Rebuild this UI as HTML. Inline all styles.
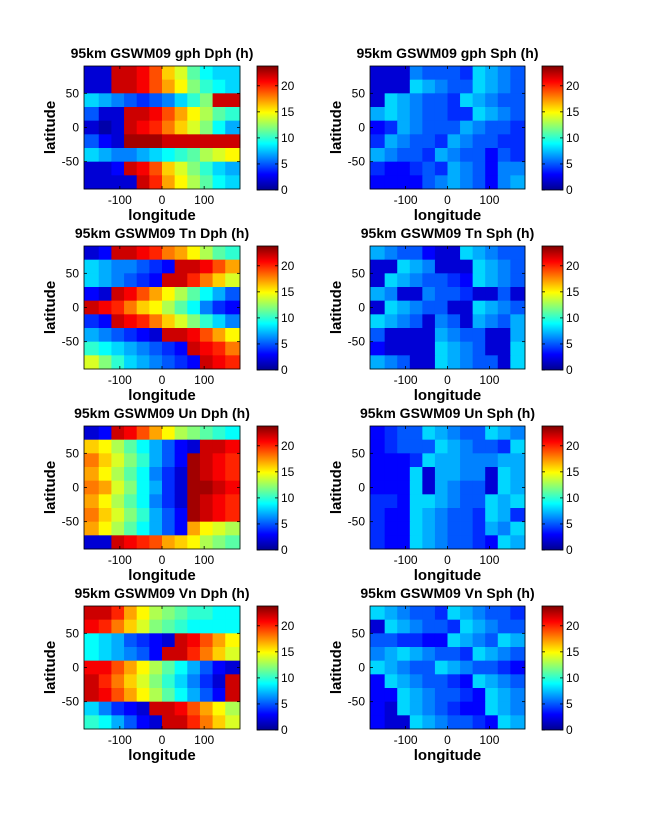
<!DOCTYPE html>
<html><head><meta charset="utf-8"><style>
html,body{margin:0;padding:0;background:#fff;}
svg{display:block;font-family:"Liberation Sans",Arial,sans-serif;}
</style></head><body>
<svg id="fig" width="647" height="822" viewBox="0 0 647 822">
<defs>
<linearGradient id="jet" x1="0" y1="1" x2="0" y2="0">
<stop offset="0" stop-color="#00008f"/><stop offset="0.125" stop-color="#0000ff"/>
<stop offset="0.375" stop-color="#00ffff"/><stop offset="0.625" stop-color="#ffff00"/>
<stop offset="0.875" stop-color="#ff0000"/><stop offset="1" stop-color="#800000"/>
</linearGradient>
</defs>
</svg>
<script>
const lonCenters=[-165,-135,-105,-75,-45,-15,15,45,75,105,135,165];
const latCenters=[80,60,40,20,0,-20,-40,-60,-80];
const lonTicks=[-100,0,100];
const latTicks=[50,0,-50];
const cbarTicks=[0,5,10,15,20];
const gphDph=[[2,2,22,22,21,19,16,14,11,9,8,8],[2,2,22,22,21,19,17,15,12,10,9,8],[8,7,6,5,4,5,6,8,10,12,22,22],[5,2,2,22,22,21,19,17,15,13,11,10],[2,1,2,22,21,20,18,16,14,12,9,7],[5,3,2,23,23,23,22,22,22,22,22,22],[8,7,6,6,7,8,9,10,11,13,14,15],[2,2,3,22,21,19,16,14,12,10,8,7],[2,2,2,2,22,20,17,15,13,11,9,8]];
const gphSph=[[2,2,2,6,5,5,5,4,8,7,6,5],[2,2,2,8,7,6,5,5,8,7,6,5],[2,8,7,6,5,5,4,8,7,6,5,5],[7,8,7,6,5,5,4,4,8,7,6,5],[3,4,7,6,5,5,5,7,6,5,5,4],[4,7,6,5,5,4,7,6,5,5,4,4],[7,6,5,5,4,7,6,5,5,3,5,4],[4,3,3,4,5,4,7,6,5,3,6,6],[3,3,3,3,5,6,7,6,5,3,6,7]];
const tnDph=[[2,3,22,22,21,20,18,17,15,13,11,10],[8,7,6,6,5,4,3,22,22,21,19,17],[8,7,6,5,4,3,22,22,20,18,16,14],[3,2,22,21,19,17,15,13,11,9,7,5],[22,21,20,18,16,15,13,11,9,6,4,3],[4,3,22,21,20,18,16,14,12,10,8,6],[7,6,5,4,3,2,22,22,21,19,17,15],[10,9,8,7,6,5,4,3,22,21,20,18],[14,12,10,8,7,6,5,4,3,22,21,20]];
const tnSph=[[7,6,5,5,3,2,2,8,7,6,5,5],[2,2,8,7,6,2,2,2,8,7,6,5],[2,8,7,6,5,5,4,3,8,7,6,5],[7,6,2,2,6,5,5,4,2,2,5,2],[2,8,7,6,5,5,2,2,8,7,6,5],[8,7,6,5,2,6,5,2,7,6,5,7],[5,2,2,2,2,7,6,5,5,2,2,7],[3,2,2,2,2,8,7,6,5,2,2,8],[7,6,5,2,2,8,7,6,5,5,2,8]];
const unDph=[[2,3,22,21,19,17,15,13,12,11,10,9],[16,15,13,11,9,7,5,3,2,22,22,21],[18,16,14,12,10,7,5,3,23,22,21,20],[17,15,13,11,9,6,4,2,23,22,21,20],[18,17,14,12,9,7,4,2,23,23,22,21],[17,15,13,11,9,6,4,2,23,22,21,20],[18,16,14,12,10,7,5,3,23,22,21,20],[17,15,13,11,9,7,5,3,17,15,14,13],[2,2,22,21,20,19,17,16,15,13,12,11]];
const unSph=[[3,4,5,5,8,7,6,5,5,8,7,6],[3,4,5,5,5,8,7,6,5,5,4,8],[3,3,3,4,8,7,7,6,6,6,7,7],[3,3,3,8,2,7,7,6,6,2,8,7],[3,3,3,8,2,7,6,5,5,2,8,7],[4,4,3,8,8,7,6,5,5,8,7,8],[4,3,3,8,7,6,5,5,4,8,7,4],[4,3,3,8,7,6,5,5,4,7,6,8],[4,3,3,8,7,6,5,5,4,3,8,7]];
const vnDph=[[22,22,20,17,15,13,12,11,10,10,9,9],[21,20,18,16,14,12,11,10,9,9,9,9],[9,8,7,5,4,3,2,22,21,19,17,15],[9,8,7,6,5,3,22,22,20,18,16,14],[21,21,19,17,15,13,11,9,7,5,3,2],[22,20,18,16,14,12,10,8,6,4,2,22],[22,21,19,17,15,13,11,9,7,5,3,22],[8,6,4,3,2,22,22,21,19,17,15,13],[10,9,7,5,3,2,22,22,20,18,16,14]];
const vnSph=[[8,7,6,5,5,4,8,7,6,5,5,4],[2,8,7,6,5,5,4,8,7,6,5,5],[5,5,4,4,3,3,8,7,6,5,8,7],[6,7,8,7,6,5,5,4,8,7,6,5],[8,7,6,5,5,8,7,6,5,5,4,3],[3,8,7,6,5,5,4,3,8,7,6,5],[3,3,8,7,6,5,5,4,3,8,7,6],[3,2,8,7,6,5,4,3,3,8,7,6],[3,2,2,8,7,6,5,5,4,3,8,7]];

const NS='http://www.w3.org/2000/svg';
const svg=document.getElementById('fig');
const VMAX=23.8, LONMIN=-185, LONMAX=185;
function mk(tag,attrs,parent){const e=document.createElementNS(NS,tag);for(const k in attrs)e.setAttribute(k,attrs[k]);(parent||svg).appendChild(e);return e;}
function jet(v){let t=Math.max(0,Math.min(1,v/VMAX));const c=x=>Math.round(255*Math.max(0,Math.min(1,1.5-Math.abs(4*t-x))));return `rgb(${c(3)},${c(2)},${c(1)})`;}

const panels=[
 {t:'95km GSWM09 gph Dph (h)',d:gphDph,col:0,row:0,n:'gph-dph'},
 {t:'95km GSWM09 gph Sph (h)',d:gphSph,col:1,row:0,n:'gph-sph'},
 {t:'95km GSWM09 Tn Dph (h)',d:tnDph,col:0,row:1,n:'tn-dph'},
 {t:'95km GSWM09 Tn Sph (h)',d:tnSph,col:1,row:1,n:'tn-sph'},
 {t:'95km GSWM09 Un Dph (h)',d:unDph,col:0,row:2,n:'un-dph'},
 {t:'95km GSWM09 Un Sph (h)',d:unSph,col:1,row:2,n:'un-sph'},
 {t:'95km GSWM09 Vn Dph (h)',d:vnDph,col:0,row:3,n:'vn-dph'},
 {t:'95km GSWM09 Vn Sph (h)',d:vnSph,col:1,row:3,n:'vn-sph'}];

panels.forEach(p=>{
 const x0=p.col?370:84, w=p.col?155:156, y0=66+180*p.row, h=123;
 const cbx=p.col?542:257;
 const g=mk('g',{});
 
 
 const xs=lon=>x0+(lon-LONMIN)/(LONMAX-LONMIN)*w;
 const ys=lat=>y0+(90-lat)/180*h;
 const xb=[x0];for(let i=1;i<lonCenters.length;i++)xb.push(xs((lonCenters[i-1]+lonCenters[i])/2));xb.push(x0+w);
 const yb=[y0];for(let j=1;j<latCenters.length;j++)yb.push(ys((latCenters[j-1]+latCenters[j])/2));yb.push(y0+h);
 p.d.forEach((rowv,j)=>rowv.forEach((v,i)=>{
  const r=mk('rect',{x:xb[i].toFixed(2),y:yb[j].toFixed(2),width:(xb[i+1]-xb[i]+0.4).toFixed(2),height:(yb[j+1]-yb[j]+0.4).toFixed(2),fill:jet(v)},g);
  
  
 }));
 const bx=mk('rect',{x:x0,y:y0,width:w,height:h,fill:'none',stroke:'#000','stroke-width':0.8},g);
 
 
 const tt=mk('text',{x:x0+w/2,y:y0-8,'text-anchor':'middle','font-size':'14','font-weight':'bold'},g);
 tt.textContent=p.t;
 
 
 lonTicks.forEach(v=>{
  const X=xs(v);
  mk('line',{x1:X,x2:X,y1:y0+h,y2:y0+h-3,stroke:'#000','stroke-width':0.8},g);
  mk('line',{x1:X,x2:X,y1:y0,y2:y0+3,stroke:'#000','stroke-width':0.8},g);
  const t=mk('text',{x:X,y:y0+h+15,'text-anchor':'middle','font-size':'12'},g);
  t.textContent=String(v);
  
  
 });
 latTicks.forEach(v=>{
  const Y=ys(v);
  mk('line',{x1:x0,x2:x0+3,y1:Y,y2:Y,stroke:'#000','stroke-width':0.8},g);
  mk('line',{x1:x0+w,x2:x0+w-3,y1:Y,y2:Y,stroke:'#000','stroke-width':0.8},g);
  const t=mk('text',{x:x0-5,y:Y+4,'text-anchor':'end','font-size':'12'},g);
  t.textContent=String(v);
  
  
 });
 const xl=mk('text',{x:x0+w/2,y:y0+h+31,'text-anchor':'middle','font-size':'15','font-weight':'bold'},g);
 xl.textContent='longitude';
 
 
 const yx=x0-29, yy=y0+h/2;
 const yl=mk('text',{x:yx,y:yy,'text-anchor':'middle','font-size':'15','font-weight':'bold',transform:`rotate(-90 ${yx} ${yy})`},g);
 yl.textContent='latitude';
 
 
 const ch=124;
 const cb=mk('rect',{x:cbx,y:y0,width:21,height:ch,fill:'url(#jet)',stroke:'#000','stroke-width':0.8},g);
 
 
 cbarTicks.forEach(v=>{
  const Y=y0+ch-v/VMAX*ch;
  mk('line',{x1:cbx+21,x2:cbx+18,y1:Y,y2:Y,stroke:'#000','stroke-width':0.8},g);
  mk('line',{x1:cbx,x2:cbx+3,y1:Y,y2:Y,stroke:'#000','stroke-width':0.8},g);
  const t=mk('text',{x:cbx+24,y:Y+4,'font-size':'12'},g);
  t.textContent=String(v);
  
  
 });
});
</script>
</body></html>
